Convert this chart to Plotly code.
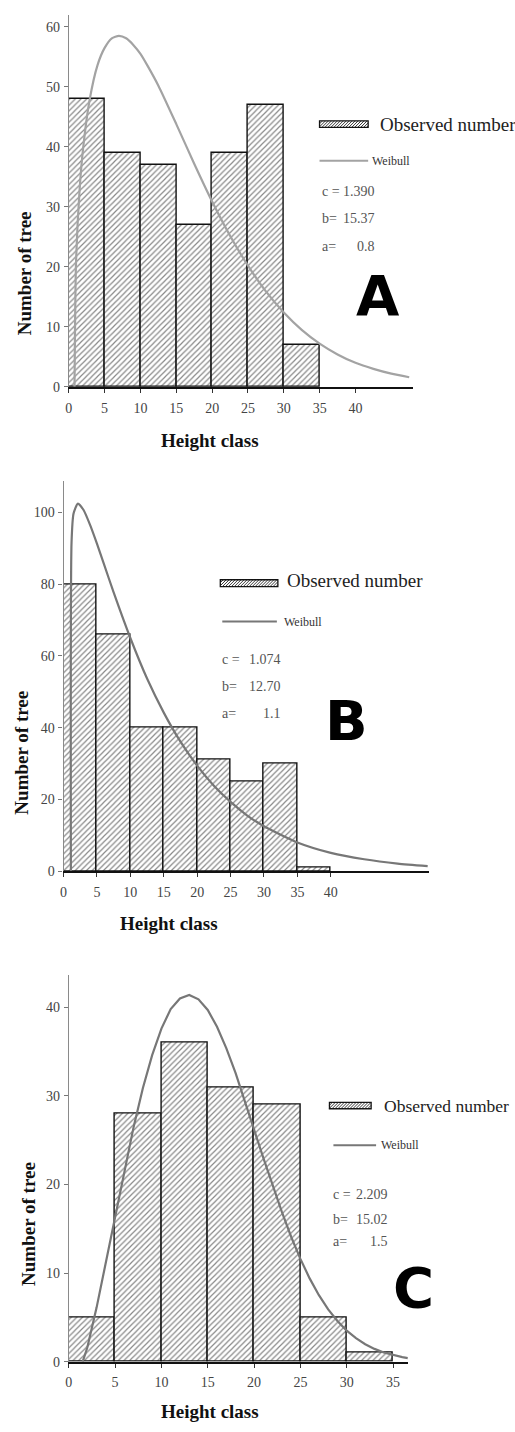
import plotly.graph_objects as go

W, H = 515, 1432


def px(x):
    return x / W


def py(y):
    return 1 - y / H


# ---------------- data ----------------
bins_A = [0, 5, 10, 15, 20, 25, 30]
obs_A = [48, 39, 37, 27, 39, 47, 7]
wx_A = [0.8, 1, 1.5, 2, 2.9, 4, 5, 6, 7, 8, 9, 10, 11, 12.5, 15, 17.5, 20, 22.5,
        25, 27.5, 30, 32.5, 35, 37.5, 40, 42.5, 45, 47.5]
wy_A = [0, 20.3, 32.7, 39.8, 47.8, 53.6, 56.5, 58.1, 58.5, 58.1, 57.0, 55.5, 53.5,
        50.2, 43.8, 37.2, 30.9, 25.2, 20.2, 15.9, 12.4, 9.5, 7.2, 5.4, 4.0, 3.0, 2.2, 1.6]
params_A = [("c =", "1.390"), ("b=", "15.37"), ("a=", "0.8")]

bins_B = [0, 5, 10, 15, 20, 25, 30, 35]
obs_B = [80, 66, 40, 40, 31, 25, 30, 1]
wx_B = [1.1, 1.2, 1.5, 2.15, 3, 4, 5, 6, 7.5, 10, 12.5, 15, 17.5, 20, 22.5, 25,
        27.5, 30, 35, 40, 45, 50, 54.5]
wy_B = [0, 91.7, 99.7, 102.5, 100.7, 96.4, 91.3, 85.9, 77.7, 65.0, 53.7, 44.2,
        36.1, 29.4, 23.8, 19.3, 15.5, 12.5, 8.0, 5.1, 3.3, 2.1, 1.4]
params_B = [("c =", "1.074"), ("b=", "12.70"), ("a=", "1.1")]

bins_C = [0, 5, 10, 15, 20, 25, 30]
obs_C = [5, 28, 36, 31, 29, 5, 1]
wx_C = [1.5, 2, 3, 4, 5, 6, 7, 8, 9, 10, 11, 12, 13, 14, 15, 16, 17, 18, 19, 20,
        21, 22, 23, 24, 25, 26, 27, 28, 29, 30, 31, 32, 33, 34, 35, 36, 36.6]
wy_C = [0, 1.6, 6.1, 11.2, 16.4, 21.6, 26.5, 30.9, 34.6, 37.6, 39.8, 41.0, 41.4,
        40.9, 39.7, 37.8, 35.4, 32.6, 29.5, 26.2, 23.0, 19.9, 16.9, 14.1, 11.6, 9.4,
        7.5, 5.9, 4.6, 3.5, 2.65, 1.97, 1.44, 1.03, 0.73, 0.51, 0.4]
params_C = [("c =", "2.209"), ("b=", "15.02"), ("a=", "1.5")]

xticks_A = [0, 5, 10, 15, 20, 25, 30, 35, 40]
yticks_A = [0, 10, 20, 30, 40, 50, 60]
xticks_B = [0, 5, 10, 15, 20, 25, 30, 35, 40]
yticks_B = [0, 20, 40, 60, 80, 100]
xticks_C = [0, 5, 10, 15, 20, 25, 30, 35]
yticks_C = [0, 10, 20, 30, 40]

panel_letters = ["A", "B", "C"]
legend_bar = "Observed number"
legend_line = "Weibull"
x_title = "Height class"
y_title = "Number of tree"

# ---------------- layout geometry (pixels) ----------------
panels = [
    dict(bins=bins_A, obs=obs_A, wx=wx_A, wy=wy_A, params=params_A, xt=xticks_A, yt=yticks_A,
         xpx=(65.3, 412), ypx=(15, 389), xr=48.0, yr=62.0, curve="#a3a3a3",
         shape="spline", smooth=0.6,
         sw=(318, 367, 121.5, 128), ltxt=(377, 125.5), lsize=19, lline=(318, 367, 161.7),
         wtxt=(369, 161.7), plab=318, pval=376, prow=(193, 220, 248), letter=(376.5, 297.5),
         ytit=(21, 275), xtit=(207.5, 443)),
    dict(bins=bins_B, obs=obs_B, wx=wx_B, wy=wy_B, params=params_B, xt=xticks_B, yt=yticks_B,
         xpx=(60, 428), ypx=(483.3, 876), xr=54.65, yr=108.9, curve="#777777",
         shape="spline", smooth=0.6,
         sw=(218, 276, 583, 590), ltxt=(283.3, 583.5), lsize=19, lline=(220, 275, 625),
         wtxt=(280, 625), plab=218, pval=281, prow=(663, 690, 718), letter=(345, 725),
         ytit=(18, 757), xtit=(166, 929)),
    dict(bins=bins_C, obs=obs_C, wx=wx_C, wy=wy_C, params=params_C, xt=xticks_C, yt=yticks_C,
         xpx=(65.3, 407), ypx=(980, 1369.3), xr=36.6, yr=43.7, curve="#777777",
         shape="linear", smooth=None,
         sw=(328, 370, 1108.5, 1115), ltxt=(381, 1112), lsize=17.5, lline=(332, 375, 1151.7),
         wtxt=(378, 1151.7), plab=330, pval=389, prow=(1201.7, 1226.7, 1248.5),
         letter=(412.5, 1295), ytit=(24, 1231), xtit=(207.5, 1419)),
]

fig = go.Figure()
shapes = []
annotations = []

serif = "Liberation Serif"
narrow = "Liberation Sans Narrow, Liberation Serif"
tick_font = dict(family=narrow, size=14, color="#444444")
param_font = dict(family=narrow, size=14, color="#555555")

for i, p in enumerate(panels):
    n = "" if i == 0 else str(i + 1)
    xa, ya = "x" + n, "y" + n
    fig.add_trace(go.Bar(
        x=p["bins"], y=p["obs"], width=5, offset=0, xaxis=xa, yaxis=ya,
        marker=dict(color="white", line=dict(color="#111111", width=1.4),
                    pattern=dict(shape="/", fgcolor="#111111", bgcolor="white",
                                 size=4, solidity=0.3)),
        showlegend=False))
    line = dict(color=p["curve"], width=2.2, shape=p["shape"])
    if p["smooth"] is not None:
        line["smoothing"] = p["smooth"]
    fig.add_trace(go.Scatter(
        x=p["wx"], y=p["wy"], mode="lines", xaxis=xa, yaxis=ya,
        line=line, showlegend=False))

    fig.update_layout(**{
        "xaxis" + n: dict(domain=[px(p["xpx"][0]), px(p["xpx"][1])], range=[0, p["xr"]],
                          anchor=ya, showgrid=False, zeroline=False, showline=True,
                          linecolor="#111111", linewidth=2, ticks="outside", ticklen=4,
                          tickcolor="#333333", tickvals=p["xt"], tickfont=tick_font,
                          ticklabelstandoff=3, fixedrange=True),
        "yaxis" + n: dict(domain=[py(p["ypx"][1]), py(p["ypx"][0])], range=[0, p["yr"]],
                          anchor=xa, showgrid=False, zeroline=False, showline=True,
                          linecolor="#8a8a8a", linewidth=1.2, ticks="outside", ticklen=4,
                          tickcolor="#777777", tickvals=p["yt"], tickfont=tick_font,
                          ticklabelstandoff=1, fixedrange=True),
    })

    # legend swatch (hatched rectangle)
    x0, x1, y0, y1 = p["sw"]
    shapes.append(dict(type="rect", xref="paper", yref="paper", x0=px(x0), x1=px(x1),
                       y0=py(y1), y1=py(y0), fillcolor="white",
                       line=dict(color="#111111", width=1.3)))
    h = y1 - y0
    segs = []
    s = x0 - h
    while s < x1:
        sx, sy = s, y1
        ex, ey = s + h, y0
        if sx < x0:
            sy = y1 - (x0 - sx)
            sx = x0
        if ex > x1:
            ey = y0 + (ex - x1)
            ex = x1
        segs.append(f"M{px(sx):.5f},{py(sy):.5f} L{px(ex):.5f},{py(ey):.5f}")
        s += 3
    shapes.append(dict(type="path", xref="paper", yref="paper", path=" ".join(segs),
                       line=dict(color="#222222", width=0.9)))
    annotations.append(dict(xref="paper", yref="paper", x=px(p["ltxt"][0]), y=py(p["ltxt"][1]),
                            text=legend_bar, showarrow=False, xanchor="left", yanchor="middle",
                            font=dict(family=serif, size=p["lsize"], color="#222222")))
    # legend line
    lx0, lx1, ly = p["lline"]
    shapes.append(dict(type="line", xref="paper", yref="paper", x0=px(lx0), x1=px(lx1),
                       y0=py(ly), y1=py(ly), line=dict(color=p["curve"], width=2)))
    annotations.append(dict(xref="paper", yref="paper", x=px(p["wtxt"][0]), y=py(p["wtxt"][1]),
                            text=legend_line, showarrow=False, xanchor="left", yanchor="middle",
                            font=dict(family=serif, size=12, color="#333333")))
    # parameters
    for (lab, val), yy in zip(p["params"], p["prow"]):
        annotations.append(dict(xref="paper", yref="paper", x=px(p["plab"]), y=py(yy), text=lab,
                                showarrow=False, xanchor="left", yanchor="middle",
                                font=param_font))
        annotations.append(dict(xref="paper", yref="paper", x=px(p["pval"]), y=py(yy), text=val,
                                showarrow=False, xanchor="right", yanchor="middle",
                                font=param_font))
    # big letter
    annotations.append(dict(xref="paper", yref="paper", x=px(p["letter"][0]), y=py(p["letter"][1]),
                            text=f"<b>{panel_letters[i]}</b>", showarrow=False,
                            xanchor="center", yanchor="middle",
                            font=dict(family="DejaVu Sans", size=56, color="black")))
    # axis titles
    annotations.append(dict(xref="paper", yref="paper", x=px(p["ytit"][0]), y=py(p["ytit"][1]),
                            text=f"<b>{y_title}</b>", showarrow=False, textangle=-90,
                            xanchor="center", yanchor="middle",
                            font=dict(family=serif, size=19, color="#111111")))
    annotations.append(dict(xref="paper", yref="paper", x=px(p["xtit"][0]), y=py(p["xtit"][1]),
                            text=f"<b>{x_title}</b>", showarrow=False,
                            xanchor="center", yanchor="middle",
                            font=dict(family=serif, size=19, color="#111111")))

fig.update_layout(width=W, height=H, margin=dict(l=0, r=0, t=0, b=0),
                  paper_bgcolor="white", plot_bgcolor="white", bargap=0,
                  shapes=shapes, annotations=annotations, showlegend=False)

fig.write_html("out.html")
